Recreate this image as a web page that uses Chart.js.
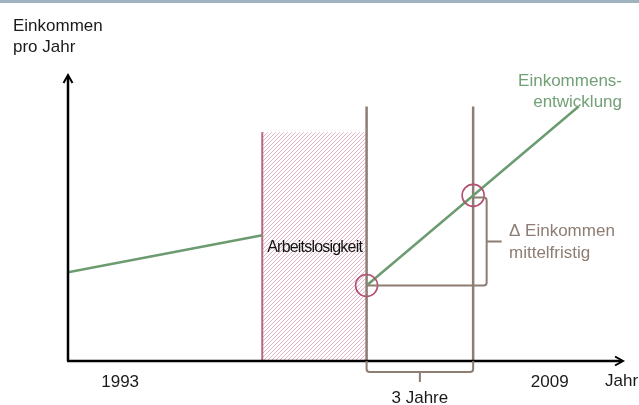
<!DOCTYPE html>
<html>
<head>
<meta charset="utf-8">
<script src="https://cdn.jsdelivr.net/npm/chart.js@4"></script>
<style>
  html, body { margin: 0; padding: 0; background: #fff; }
  canvas { display: block; }
</style>
</head>
<body>
<canvas id="chart" width="639" height="405"></canvas>
<script>
// values in abstract units: x = time (0 = start 1993), y = income
var yearLabels = ['1993', '2009'];
var yearAt = [9.4, 86.8];

var einkommenVorher = [{ x: 0, y: 31 }, { x: 35, y: 44 }];
var einkommenNachher = [{ x: 53.8, y: 26.4 }, { x: 92, y: 89 }];

var arbeitslosVon = 35;
var arbeitslosBis = 53.8;
var arbeitslosHoehe = 80;

var messJahre = [53.8, 73];     // start and end of the 3 years
var messHoehe = 89;
var messPunkte = [{ x: 53.8, y: 26.4 }, { x: 73, y: 57.9 }];

var green = '#6b9b6f';
var greenText = '#72a077';
var brown = '#8d7d72';
var pinkEdge = '#b5687f';
var circleCol = '#b24f72';
var font = '"Liberation Sans", Arial, sans-serif';

// crisp one-pixel diagonal hatch, light pink
function hatchPattern() {
  var c = document.createElement('canvas');
  c.width = 4; c.height = 4;
  var g = c.getContext('2d');
  g.fillStyle = '#ffffff';
  g.fillRect(0, 0, 4, 4);
  g.fillStyle = '#e2b4c5';
  for (var i = 0; i < 4; i++) g.fillRect(3 - i, i, 1, 1);
  return g.createPattern(c, 'repeat');
}

function line(data, color, width, order) {
  return {
    data: data,
    showLine: true,
    borderColor: color,
    borderWidth: width,
    pointRadius: 0,
    fill: false,
    order: order
  };
}

var decor = {
  id: 'decor',
  afterDatasetsDraw: function (chart) {
    var ctx = chart.ctx;
    var xs = chart.scales.x, ys = chart.scales.y;
    var a = chart.chartArea;
    ctx.save();

    // top band
    ctx.fillStyle = '#9eb3bf';
    ctx.fillRect(0, 0, chart.width, 3);

    // axes with arrow heads
    ctx.strokeStyle = '#000';
    ctx.lineWidth = 2.5;
    ctx.lineCap = 'butt';
    ctx.beginPath();
    ctx.moveTo(a.left, a.bottom);
    ctx.lineTo(a.left, a.top + 1);
    ctx.moveTo(a.left - 1, a.bottom);
    ctx.lineTo(a.right - 1, a.bottom);
    ctx.stroke();
    ctx.lineWidth = 2;
    ctx.beginPath();
    ctx.moveTo(a.left - 4.5, a.top + 8);
    ctx.lineTo(a.left, a.top);
    ctx.lineTo(a.left + 4.5, a.top + 8);
    ctx.moveTo(a.right - 8, a.bottom - 4.5);
    ctx.lineTo(a.right, a.bottom);
    ctx.lineTo(a.right - 8, a.bottom + 4.5);
    ctx.stroke();

    // brace under the 3 years
    var xa = xs.getPixelForValue(messJahre[0]);
    var xb = xs.getPixelForValue(messJahre[1]);
    var yb = a.bottom + 11;
    var mid = (xa + xb) / 2;
    ctx.strokeStyle = brown;
    ctx.lineWidth = 2;
    ctx.beginPath();
    ctx.moveTo(xa, a.bottom);
    ctx.lineTo(xa, yb - 3);
    ctx.quadraticCurveTo(xa, yb, xa + 3, yb);
    ctx.lineTo(xb - 3, yb);
    ctx.quadraticCurveTo(xb, yb, xb, yb - 3);
    ctx.lineTo(xb, a.bottom);
    ctx.moveTo(mid, yb);
    ctx.lineTo(mid, yb + 10);
    ctx.stroke();

    // brace for the income gain
    var yTop = ys.getPixelForValue(messPunkte[1].y) + 2;
    var yBot = ys.getPixelForValue(messPunkte[0].y);
    var xr = xb + 13.5;
    var ym = (yTop + yBot) / 2;
    ctx.beginPath();
    ctx.moveTo(xb, yTop);
    ctx.lineTo(xr - 3, yTop);
    ctx.quadraticCurveTo(xr, yTop, xr, yTop + 3);
    ctx.lineTo(xr, yBot - 3);
    ctx.quadraticCurveTo(xr, yBot, xr - 3, yBot);
    ctx.lineTo(xa, yBot);
    ctx.moveTo(xr, ym);
    ctx.lineTo(xr + 15, ym);
    ctx.stroke();

    // texts
    function txt(s, x, y, color, align, size, spacing) {
      ctx.font = size + 'px ' + font;
      ctx.fillStyle = color;
      ctx.textAlign = align;
      ctx.textBaseline = 'alphabetic';
      ctx.letterSpacing = spacing || '0px';
      ctx.fillText(s, x, y);
      ctx.letterSpacing = '0px';
    }
    txt('Einkommen', 13, 31, '#1a1a1a', 'left', 17);
    txt('pro Jahr', 13, 52, '#1a1a1a', 'left', 17);
    for (var i = 0; i < yearLabels.length; i++) {
      txt(yearLabels[i], xs.getPixelForValue(yearAt[i]), a.bottom + 26, '#1a1a1a', 'center', 17);
    }
    txt('Jahr', 605, a.bottom + 25, '#1a1a1a', 'left', 17);
    txt('3 Jahre', mid, a.bottom + 42, '#1a1a1a', 'center', 17);
    txt('Einkommens-', 622, 86, greenText, 'right', 17);
    txt('entwicklung', 622, 107, greenText, 'right', 17);
    txt('\u0394 Einkommen', 509, 236, brown, 'left', 17);
    txt('mittelfristig', 509, 258, brown, 'left', 17);
    txt('Arbeitslosigkeit', xs.getPixelForValue(arbeitslosVon) + 5, 252, '#111', 'left', 16, '-0.8px');

    ctx.restore();
  }
};

new Chart(document.getElementById('chart'), {
  type: 'scatter',
  data: {
    datasets: [
      {
        data: [
          { x: arbeitslosVon, y: 0 }, { x: arbeitslosVon, y: arbeitslosHoehe },
          { x: arbeitslosBis, y: arbeitslosHoehe }, { x: arbeitslosBis, y: 0 }
        ],
        showLine: true,
        borderWidth: 0,
        borderColor: 'rgba(0,0,0,0)',
        backgroundColor: hatchPattern(),
        fill: 'origin',
        pointRadius: 0,
        order: 10
      },
      line([{ x: arbeitslosVon, y: 0 }, { x: arbeitslosVon, y: arbeitslosHoehe }], pinkEdge, 2, 9),
      line([{ x: messJahre[0], y: 0 }, { x: messJahre[0], y: messHoehe }], brown, 2.5, 8),
      line([{ x: messJahre[1], y: 0 }, { x: messJahre[1], y: messHoehe }], brown, 2.5, 8),
      line(einkommenVorher, green, 2.5, 5),
      line(einkommenNachher, green, 2.5, 5),
      {
        data: messPunkte,
        showLine: false,
        pointRadius: 11,
        pointBorderWidth: 1.6,
        pointBorderColor: circleCol,
        pointBackgroundColor: 'rgba(0,0,0,0)',
        order: 1
      }
    ]
  },
  options: {
    responsive: false,
    animation: false,
    layout: { padding: { left: 68, right: 16, top: 75, bottom: 44 } },
    plugins: { legend: { display: false }, tooltip: { enabled: false } },
    scales: {
      x: { type: 'linear', min: 0, max: 100, display: false },
      y: { type: 'linear', min: 0, max: 100, display: false }
    }
  },
  plugins: [decor]
});
</script>
</body>
</html>
